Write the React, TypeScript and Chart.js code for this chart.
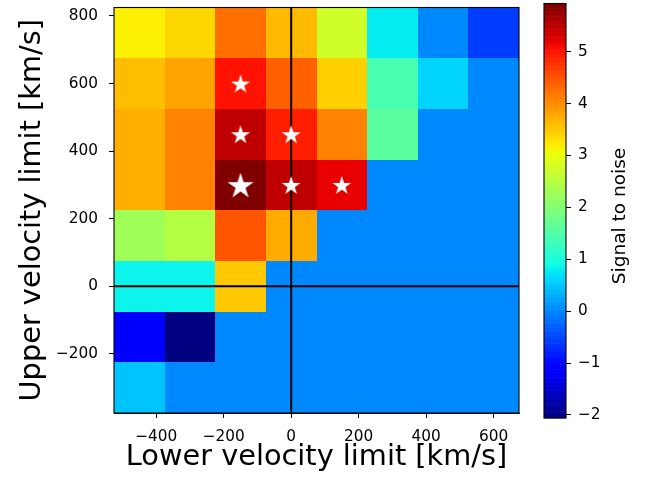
import React, { useEffect, useRef } from "react";
import { Chart, registerables } from "chart.js";

Chart.register(...registerables);

// ---- data ----
const lowerLimits = [-450, -300, -150, 0, 150, 300, 450, 600]; // column centres (km/s)
const upperLimits = [750, 600, 450, 300, 150, 0, -150, -300]; // row centres (km/s), top to bottom

const snrUpper750 = [3.17, 3.38, 4.25, 3.64, 2.73, 0.81, 0.03, -0.57];
const snrUpper600 = [3.6, 3.81, 5.03, 4.4, 3.44, 1.41, 0.61, 0];
const snrUpper450 = [3.73, 4.1, 5.49, 4.95, 4.1, 1.6, 0, 0];
const snrUpper300 = [3.73, 4.1, 5.92, 5.49, 5.2, 0, 0, 0];
const snrUpper150 = [2.29, 2.47, 4.48, 3.77, 0, 0, 0, 0];
const snrUpper0 = [0.85, 0.85, 3.52, 0, 0, 0, 0, 0];
const snrUpperM150 = [-1.12, -2.06, 0, 0, 0, 0, 0, 0];
const snrUpperM300 = [0.49, 0, 0, 0, 0, 0, 0, 0];
const snrRows = [snrUpper750, snrUpper600, snrUpper450, snrUpper300, snrUpper150, snrUpper0, snrUpperM150, snrUpperM300];

const peakStar = [{ x: -150, y: 300 }];
const detectionStars = [
  { x: -150, y: 600 },
  { x: -150, y: 450 },
  { x: 0, y: 450 },
  { x: 0, y: 300 },
  { x: 150, y: 300 },
];

const xTicks = [-400, -200, 0, 200, 400, 600];
const yTicks = [-200, 0, 200, 400, 600, 800];
const cbTicks = [-2, -1, 0, 1, 2, 3, 4, 5];

const BIN = 150;
const X_MIN = -525, X_MAX = 675;
const Y_MIN = -375, Y_MAX = 825;
const SNR_MIN = -2.06, SNR_MAX = 5.93;

const FONT = "'DejaVu Sans', sans-serif";

// ---- jet colormap (matplotlib segment data) ----
const JET_R = [[0, 0], [0.35, 0], [0.66, 1], [0.89, 1], [1, 0.5]];
const JET_G = [[0, 0], [0.125, 0], [0.375, 1], [0.64, 1], [0.91, 0], [1, 0]];
const JET_B = [[0, 0.5], [0.11, 1], [0.34, 1], [0.65, 0], [1, 0]];
function seg(s: number[][], t: number) {
  for (let i = 1; i < s.length; i++) {
    if (t <= s[i][0]) {
      const [t0, v0] = s[i - 1];
      const [t1, v1] = s[i];
      return v0 + ((t - t0) / (t1 - t0)) * (v1 - v0);
    }
  }
  return s[s.length - 1][1];
}
function jet(v: number) {
  let t = (v - SNR_MIN) / (SNR_MAX - SNR_MIN);
  t = Math.max(0, Math.min(1, t));
  t = Math.min(255, Math.floor(t * 256)) / 255;
  const r = Math.round(seg(JET_R, t) * 255);
  const g = Math.round(seg(JET_G, t) * 255);
  const b = Math.round(seg(JET_B, t) * 255);
  return `rgb(${r},${g},${b})`;
}

function starImage(R: number) {
  const size = Math.ceil(R * 2 + 2);
  const c = document.createElement("canvas");
  c.width = size;
  c.height = size;
  const ctx = c.getContext("2d")!;
  const cx = size / 2, cy = size / 2 + R * 0.1;
  const r = R * 0.381966;
  ctx.beginPath();
  for (let i = 0; i < 10; i++) {
    const a = -Math.PI / 2 + (i * Math.PI) / 5;
    const rad = i % 2 === 0 ? R : r;
    const px = cx + rad * Math.cos(a), py = cy + rad * Math.sin(a);
    if (i === 0) ctx.moveTo(px, py); else ctx.lineTo(px, py);
  }
  ctx.closePath();
  ctx.fillStyle = "#fff";
  ctx.fill();
  return c;
}

const fmt = (v: number | string) => {
  const n = Number(v);
  return n < 0 ? "\u2212" + Math.abs(n) : String(n);
};

const noPad = (s: any) => {
  s.paddingTop = 0;
  s.paddingBottom = 0;
  s.paddingLeft = 0;
  s.paddingRight = 0;
};

const heatmapPlugin = {
  id: "heatmap",
  beforeDatasetsDraw(chart: any) {
    const { ctx, chartArea, scales } = chart;
    const xs = scales.x, ys = scales.y;
    ctx.save();
    ctx.beginPath();
    ctx.rect(chartArea.left, chartArea.top, chartArea.right - chartArea.left, chartArea.bottom - chartArea.top);
    ctx.clip();
    upperLimits.forEach((u, r) => {
      lowerLimits.forEach((l, c) => {
        const x0 = Math.round(xs.getPixelForValue(l - BIN / 2));
        const x1 = Math.round(xs.getPixelForValue(l + BIN / 2));
        const y0 = Math.round(ys.getPixelForValue(u + BIN / 2));
        const y1 = Math.round(ys.getPixelForValue(u - BIN / 2));
        ctx.fillStyle = jet(snrRows[r][c]);
        ctx.fillRect(x0, y0, x1 - x0, y1 - y0);
      });
    });
    ctx.restore();
  },
  afterDatasetsDraw(chart: any) {
    const { ctx, chartArea } = chart;
    ctx.save();
    ctx.strokeStyle = "#000";
    ctx.lineWidth = 1.1;
    ctx.strokeRect(chartArea.left, chartArea.top, chartArea.right - chartArea.left, chartArea.bottom - chartArea.top);
    ctx.restore();
  },
};

const colorbarPlugin = {
  id: "colorbar",
  beforeDatasetsDraw(chart: any) {
    const { ctx, chartArea, scales } = chart;
    const ys = scales.y;
    const n = 256;
    ctx.save();
    for (let i = 0; i < n; i++) {
      const v0 = SNR_MIN + ((SNR_MAX - SNR_MIN) * i) / n;
      const v1 = SNR_MIN + ((SNR_MAX - SNR_MIN) * (i + 1)) / n;
      const p0 = ys.getPixelForValue(v0);
      const p1 = ys.getPixelForValue(v1);
      ctx.fillStyle = jet((v0 + v1) / 2);
      ctx.fillRect(chartArea.left, p1 - 0.3, chartArea.right - chartArea.left, p0 - p1 + 0.6);
    }
    ctx.strokeStyle = "#000";
    ctx.lineWidth = 1.1;
    ctx.strokeRect(chartArea.left, chartArea.top, chartArea.right - chartArea.left, chartArea.bottom - chartArea.top);
    // colourbar label
    ctx.translate(90, 216);
    ctx.rotate(-Math.PI / 2);
    ctx.fillStyle = "#000";
    ctx.font = `18.5px ${FONT}`;
    ctx.textAlign = "center";
    ctx.textBaseline = "middle";
    ctx.fillText("Signal to noise", 0, 0);
    ctx.restore();
  },
};

export default function App() {
  const mainRef = useRef<HTMLCanvasElement>(null);
  const cbRef = useRef<HTMLCanvasElement>(null);

  useEffect(() => {
    const bigStar = starImage(13.7);
    const smallStar = starImage(10);
    const tickFont = { family: FONT, size: 15.3 };
    const titleFont = { family: FONT, size: 28.8 };
    const main = new Chart(mainRef.current!, {
      type: "scatter",
      data: {
        datasets: [
          { label: "peak", data: peakStar, pointStyle: bigStar as any, pointRadius: 14, showLine: false },
          { label: "detections", data: detectionStars, pointStyle: smallStar as any, pointRadius: 10, showLine: false },
          {
            label: "zero lower",
            data: [{ x: 0, y: Y_MIN }, { x: 0, y: Y_MAX }],
            showLine: true, borderColor: "#000", borderWidth: 2, pointRadius: 0,
          },
          {
            label: "zero upper",
            data: [{ x: X_MIN, y: 0 }, { x: X_MAX, y: 0 }],
            showLine: true, borderColor: "#000", borderWidth: 2, pointRadius: 0,
          },
        ],
      },
      options: {
        responsive: false,
        animation: false,
        events: [],
        layout: { autoPadding: false, padding: { top: 7.5, right: 127, left: 0, bottom: 0 } },
        plugins: { legend: { display: false }, tooltip: { enabled: false } },
        scales: {
          x: {
            type: "linear",
            min: X_MIN,
            max: X_MAX,
            afterBuildTicks: (s: any) => { s.ticks = xTicks.map((v) => ({ value: v })); },
            afterFit: (s: any) => { s.height = 68; noPad(s); },
            ticks: { callback: fmt, font: tickFont, color: "#000", padding: 9.5, maxRotation: 0, autoSkip: false },
            grid: { drawOnChartArea: false, drawTicks: true, tickLength: 5, color: "#000" },
            border: { display: true, color: "#000" },
            title: {
              display: true, text: "Lower velocity limit [km/s]",
              font: titleFont, color: "#000", padding: { top: 0, bottom: 5.7 },
            },
          },
          y: {
            type: "linear",
            min: Y_MIN,
            max: Y_MAX,
            afterBuildTicks: (s: any) => { s.ticks = yTicks.map((v) => ({ value: v })); },
            afterFit: (s: any) => { s.width = 114; noPad(s); },
            ticks: { callback: fmt, font: tickFont, color: "#000", padding: 11, autoSkip: false },
            grid: { drawOnChartArea: false, drawTicks: true, tickLength: 5, color: "#000" },
            border: { display: true, color: "#000" },
            title: {
              display: true, text: "Upper velocity limit [km/s]",
              font: titleFont, color: "#000", padding: { top: 15.7, bottom: 0 },
            },
          },
        },
      },
      plugins: [heatmapPlugin],
    });

    const cb = new Chart(cbRef.current!, {
      type: "scatter",
      data: { datasets: [] },
      options: {
        responsive: false,
        animation: false,
        events: [],
        layout: { autoPadding: false, padding: { top: 3.5, left: 14, bottom: 63, right: 0 } },
        plugins: { legend: { display: false }, tooltip: { enabled: false } },
        scales: {
          x: { display: false, min: 0, max: 1 },
          y: {
            position: "right",
            min: SNR_MIN,
            max: SNR_MAX,
            afterBuildTicks: (s: any) => { s.ticks = cbTicks.map((v) => ({ value: v })); },
            afterFit: (s: any) => { s.width = 80; noPad(s); },
            ticks: { callback: fmt, font: tickFont, color: "#000", padding: 7, autoSkip: false },
            grid: { drawOnChartArea: false, drawTicks: true, tickLength: 5, color: "#000" },
            border: { display: false },
          },
        },
      },
      plugins: [colorbarPlugin],
    });

    return () => {
      main.destroy();
      cb.destroy();
    };
  }, []);

  return (
    <div style={{ position: "fixed", left: 0, top: 0, width: 646, height: 481, background: "#fff" }}>
      <canvas ref={mainRef} width={646} height={481} style={{ position: "absolute", left: 0, top: 0 }} />
      <canvas ref={cbRef} width={116} height={481} style={{ position: "absolute", left: 530, top: 0 }} />
    </div>
  );
}
